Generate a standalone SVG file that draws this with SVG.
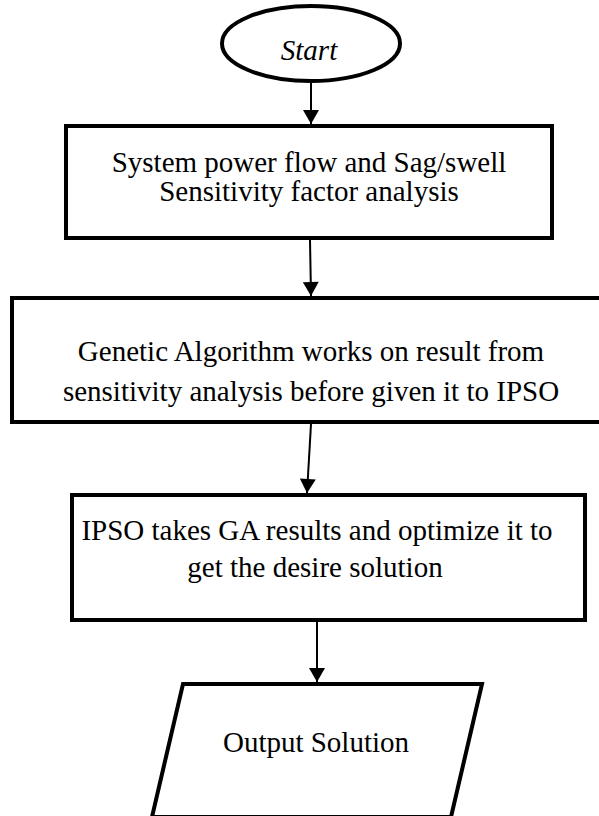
<svg xmlns="http://www.w3.org/2000/svg" width="599" height="816" viewBox="0 0 599 816">
  <style>
    .shape { fill: #ffffff; stroke: #000000; stroke-width: 4; }
    .label { font-family: "Liberation Serif", "Times New Roman", serif; font-size: 29px; fill: #000000; text-anchor: middle; }
    .flow { stroke: #000000; stroke-width: 2; fill: none; marker-end: url(#arrow); }
  </style>
  <defs>
    <marker id="arrow" markerUnits="userSpaceOnUse" markerWidth="16" markerHeight="16" viewBox="0 0 14 16" refX="14" refY="8" orient="auto">
      <path d="M0,0 L14,8 L0,16 Z" fill="#000000"/>
    </marker>
  </defs>
  <rect width="599" height="816" fill="#ffffff"/>

  <!-- connectors -->
  <g id="connectors">
    <line class="flow" x1="311" y1="82" x2="311" y2="124"/>
    <line class="flow" x1="310" y1="240" x2="311" y2="296"/>
    <line class="flow" x1="311" y1="424" x2="307" y2="493"/>
    <line class="flow" x1="317" y1="622" x2="317" y2="682"/>
  </g>

  <!-- start terminal -->
  <g id="start">
    <ellipse class="shape" cx="311" cy="43.5" rx="89" ry="37.5" stroke-width="3"/>
    <text class="label" x="309" y="60" font-style="italic">Start</text>
  </g>

  <!-- step 1 -->
  <g id="power-flow">
    <rect class="shape" x="66" y="126" width="486" height="112"/>
    <text class="label" x="309" y="172">System power flow and Sag/swell</text>
    <text class="label" x="309" y="201">Sensitivity factor analysis</text>
  </g>

  <!-- step 2 -->
  <g id="genetic-algorithm">
    <rect class="shape" x="12" y="298" width="594" height="124"/>
    <text class="label" x="311" y="361">Genetic Algorithm works on result from</text>
    <text class="label" x="311" y="401">sensitivity analysis before given it to IPSO</text>
  </g>

  <!-- step 3 -->
  <g id="ipso">
    <rect class="shape" x="72" y="495" width="513" height="125"/>
    <text class="label" x="317" y="540">IPSO takes GA results and optimize it to</text>
    <text class="label" x="315" y="577">get the desire solution</text>
  </g>

  <!-- output -->
  <g id="output">
    <polygon class="shape" points="183,684 482,684 451,817 152,817"/>
    <text class="label" x="316" y="752">Output Solution</text>
  </g>
</svg>
